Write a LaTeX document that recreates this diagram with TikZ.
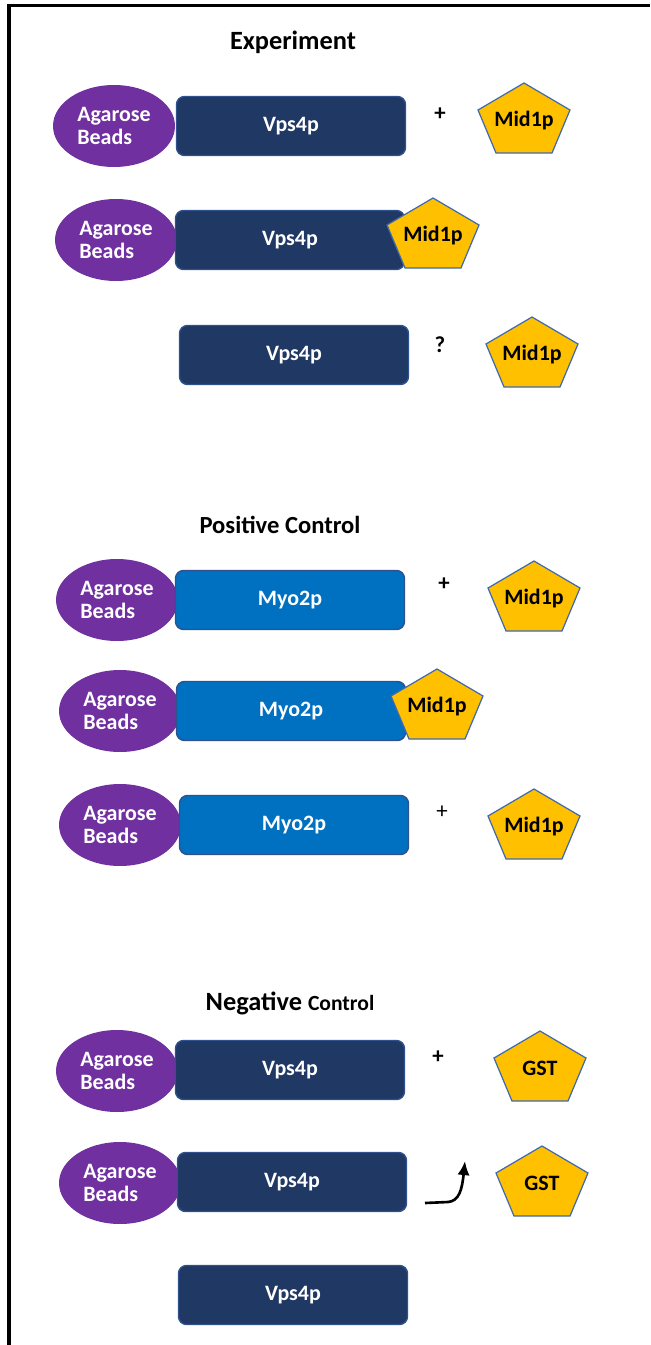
\documentclass[tikz,border=0pt]{standalone}
\usepackage{fontspec}
\setmainfont{Carlito}
\usepackage{tikz}
\usetikzlibrary{%
	shapes.geometric,%
	arrows.meta%
}
\definecolor{beadpurple}{HTML}{7030A0}
\definecolor{vpsnavy}{HTML}{203864}
\definecolor{navyline}{HTML}{2F528F}
\definecolor{myoblue}{HTML}{0070C0}
\definecolor{midgold}{HTML}{FFC000}
\definecolor{pentline}{HTML}{3F6AAE}
\newcommand{\labelfont}{\fontsize{12.5}{13}\selectfont\bfseries}
% pentagon: name, centre, text
\newcommand{\pentnode}[3]{%
	\filldraw [pentshape] (#2) ++(0,-39) -- ++(46,27) -- ++(-18,43) -- ++(-56,0) -- ++(-18,-43) -- cycle;
	\node [pentlabel] (#1) at (#2) {#3};
}

\begin{document}
\begin{tikzpicture}[x=0.02cm,y=-0.02cm,
	beads/.style={ellipse,fill=beadpurple,minimum width=2.44cm,minimum height=1.64cm,inner sep=0pt,text=white,font=\labelfont,align=left},
	vps/.style={rectangle,rounded corners=4.5pt,draw=navyline,line width=0.8pt,fill=vpsnavy,minimum width=4.58cm,minimum height=1.18cm,text=white,font=\labelfont},
	myo/.style={vps,fill=myoblue},
	pentshape/.style={fill=midgold,draw=pentline,line width=0.7pt},
	pentlabel/.style={font=\labelfont,text=black,inner sep=0pt,yshift=0.03cm},
	sign/.style={font=\fontsize{13}{14}\selectfont\bfseries},
	heading/.style={font=\fontsize{15}{18}\selectfont\bfseries}]
\useasboundingbox (0,0) rectangle (650,1345);

% Frame
\draw [line width=1.8pt] (9,1345) -- (9,5.5) -- (650,5.5);

% Experiment
\node [heading] (expt) at (293,42) {Experiment};

\node [beads] (beadsA) at (114,126) {Agarose\\Beads};
\node [vps] (vpsA) at (291,126) {Vps4p};
\node [sign] (plusA) at (440,114) {+};
\pentnode{midA}{524,122}{Mid1p}

\node [beads] (beadsB) at (116,240) {Agarose\\Beads};
\node [vps] (vpsB) at (290,240) {Vps4p};
\pentnode{midB}{433,237}{Mid1p}

\node [vps] (vpsC) at (294,355) {Vps4p};
\node [sign] (askC) at (440,345) {?};
\pentnode{midC}{532,356}{Mid1p}

% Positive control
\node [heading,font=\fontsize{14}{17}\selectfont\bfseries] (posctl) at (280,525) {Positive Control};

\node [beads] (beadsD) at (117,600) {Agarose\\Beads};
\node [myo] (myoD) at (290,600) {Myo2p};
\node [sign] (plusD) at (444,584) {+};
\pentnode{midD}{534,600}{Mid1p}

\node [beads] (beadsE) at (120,711) {Agarose\\Beads};
\node [myo] (myoE) at (291,711) {Myo2p};
\pentnode{midE}{437,708}{Mid1p}

\node [beads] (beadsF) at (120,825) {Agarose\\Beads};
\node [myo] (myoF) at (294,825) {Myo2p};
\node [sign,font=\fontsize{13}{14}\selectfont] (plusF) at (442,812) {+};
\pentnode{midF}{534,828}{Mid1p}

% Negative control
\node [heading] (negctl) at (290,1003) {Negative {\fontsize{12.3}{14}\selectfont Control}};

\node [beads] (beadsG) at (117,1071) {Agarose\\Beads};
\node [vps] (vpsG) at (290,1070) {Vps4p};
\node [sign] (plusG) at (438,1057) {+};
\pentnode{gstG}{540,1070}{GST}

\node [beads] (beadsH) at (120,1183) {Agarose\\Beads};
\node [vps] (vpsH) at (292,1182) {Vps4p};
\pentnode{gstH}{542,1185}{GST}

\node [vps] (vpsI) at (293,1295) {Vps4p};

% Release arrow
\coordinate (relstart) at (425,1203);
\coordinate (relend) at (465,1161);
\draw [line width=1.5pt,-{Latex[length=8pt,width=7pt]}] (relstart) -- (448,1202) .. controls (459,1201) and (462,1190) .. (relend);
\end{tikzpicture}
\end{document}
